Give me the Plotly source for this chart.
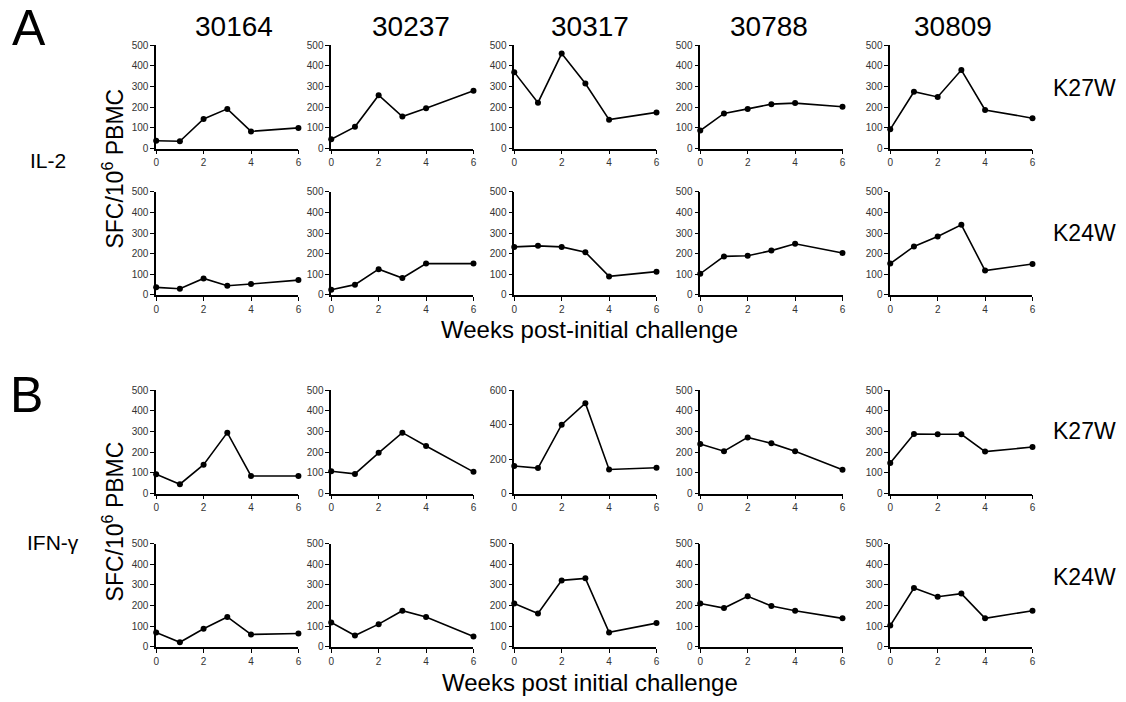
import plotly.graph_objects as go

W, H = 1126, 702

weeks = [0, 1, 2, 3, 4, 6]
animals = ["30164", "30237", "30317", "30788", "30809"]
peptides = ["K27W", "K24W"]
cytokines = ["IL-2", "IFN-γ"]

# IL-2, K27W
il2_k27w = [
    [38, 35, 143, 192, 83, 100],
    [45, 105, 258, 155, 195, 280],
    [370, 222, 460, 315, 140, 175],
    [87, 170, 192, 215, 220, 202],
    [93, 275, 250, 380, 187, 147],
]
# IL-2, K24W
il2_k24w = [
    [37, 30, 80, 45, 53, 72],
    [25, 50, 125, 82, 152, 152],
    [233, 238, 233, 207, 90, 113],
    [103, 187, 190, 215, 248, 203],
    [152, 235, 283, 340, 118, 150],
]
# IFN-g, K27W
ifn_k27w = [
    [93, 45, 140, 295, 85, 85],
    [108, 95, 197, 295, 230, 105],
    [160, 148, 400, 525, 140, 150],
    [240, 205, 272, 243, 205, 115],
    [148, 288, 287, 287, 203, 225],
]
# IFN-g, K24W
ifn_k24w = [
    [70, 22, 88, 145, 60, 65],
    [118, 55, 110, 175, 145, 50],
    [210, 162, 322, 332, 70, 115],
    [210, 188, 245, 198, 175, 138],
    [103, 285, 243, 258, 138, 175],
]

rows_data = [il2_k27w, il2_k24w, ifn_k27w, ifn_k24w]
ymax_special = {(2, 2): 600}

x_title_A = "Weeks post-initial challenge"
x_title_B = "Weeks post initial challenge"

# layout geometry (pixels)
col_left = [154, 330, 514, 701, 892]
col_w = 143
row_top = [40, 189, 391, 547]
row_h = 105

fig = go.Figure()
layout = {}
n = 0
tickfont = dict(family="Liberation Sans Narrow, Arial Narrow, Liberation Sans, Arial",
                size=10, color="#333")
for r, data in enumerate(rows_data):
    for c, vals in enumerate(data):
        n += 1
        xa = "x" if n == 1 else f"x{n}"
        ya = "y" if n == 1 else f"y{n}"
        ymax = ymax_special.get((r, c), 500)
        dtick = 200 if ymax == 600 else 100
        fig.add_trace(go.Scatter(
            x=weeks, y=vals, mode="lines+markers", xaxis=xa, yaxis=ya,
            line=dict(color="black", width=1.6),
            marker=dict(color="black", size=6),
            cliponaxis=False, showlegend=False, hoverinfo="x+y"))
        x0 = col_left[c] / W
        x1 = (col_left[c] + col_w) / W
        y1 = 1 - row_top[r] / H
        y0 = 1 - (row_top[r] + row_h) / H
        layout["xaxis" + ("" if n == 1 else str(n))] = dict(
            domain=[x0, x1], anchor=ya, range=[0, 6], tickvals=[0, 2, 4, 6],
            showgrid=False, zeroline=False, showline=True, linecolor="black",
            linewidth=1.5, ticks="outside", ticklen=4, tickwidth=1, tickcolor="black",
            tickfont=tickfont, fixedrange=True)
        layout["yaxis" + ("" if n == 1 else str(n))] = dict(
            domain=[y0, y1], anchor=xa, range=[0, ymax], dtick=dtick,
            showgrid=False, zeroline=False, showline=True, linecolor="black",
            linewidth=1.5, ticks="outside", ticklen=4, tickwidth=1, tickcolor="black",
            tickfont=tickfont, fixedrange=True)

fig.update_layout(**layout)

font = "Liberation Sans, Arial, sans-serif"
ann = []

def txt(x, y, s, size, angle=0):
    ann.append(dict(x=x / W, y=1 - y / H, xref="paper", yref="paper", text=s,
                    showarrow=False, font=dict(family=font, size=size, color="black"),
                    textangle=angle, xanchor="center", yanchor="middle"))

txt(26, 22, "A", 50)
txt(24, 396, "B", 50)
col_centers = [232, 410, 590, 770, 955]
for cx, a in zip(col_centers, animals):
    txt(cx, 21, a, 28)
txt(1087, 83, peptides[0], 23)
txt(1087, 231, peptides[1], 23)
txt(1087, 432, peptides[0], 23)
txt(1087, 581, peptides[1], 23)
txt(45, 157, cytokines[0], 21)
txt(50, 546, cytokines[1], 21)
txt(111, 165, "SFC/10<sup>6</sup> PBMC", 23, -90)
txt(111, 524, "SFC/10<sup>6</sup> PBMC", 23, -90)
txt(590, 329, x_title_A, 24)
txt(590, 688, x_title_B, 24)

fig.update_layout(width=W, height=H, margin=dict(l=0, r=0, t=0, b=0),
                  paper_bgcolor="white", plot_bgcolor="white", annotations=ann)
fig.write_html("out.html", config={"displayModeBar": False},
               post_script="document.body.style.margin='0px';document.body.style.padding='0px';")
